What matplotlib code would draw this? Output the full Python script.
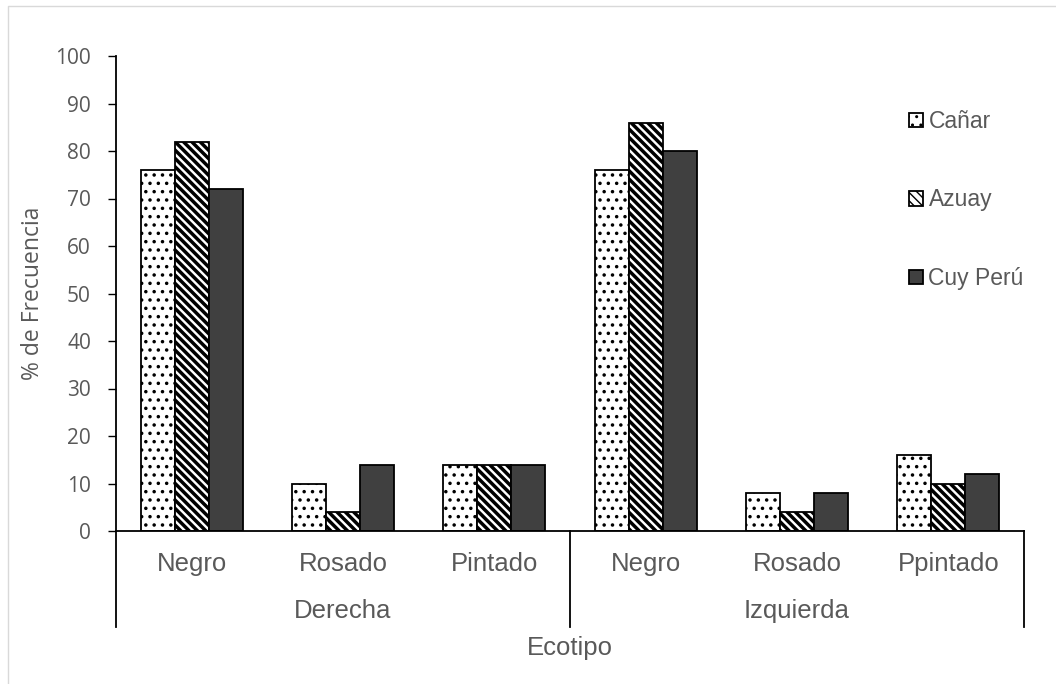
import matplotlib
matplotlib.use("Agg")
import matplotlib.pyplot as plt
from matplotlib.lines import Line2D
import numpy as np

# data
groups = ["Derecha", "Izquierda"]
ecotipos = ["Negro", "Rosado", "Pintado", "Negro", "Rosado", "Ppintado"]
series = ["Cañar", "Azuay", "Cuy Perú"]
canar = [76, 10, 14, 76, 8, 16]
azuay = [82, 4, 14, 86, 4, 10]
cuy_peru = [72, 14, 14, 80, 8, 12]
yticks = list(range(0, 101, 10))

TEXT = "#595959"
W, H = 1056, 684

fig = plt.figure(figsize=(W / 100, H / 100), dpi=100)
ax = fig.add_axes([116 / W, 1 - 531 / H, (1024 - 116) / W, 475 / H])

x = np.arange(len(ecotipos))
bw = 0.225
styles = [
    dict(facecolor="white", hatch=".."),
    dict(facecolor="white", hatch="\\" * 4),
    dict(facecolor="#404040", hatch=None),
]
hatch_lw = [1.3, 2.5, 1.0]
for i, (vals, name, st) in enumerate(zip([canar, azuay, cuy_peru], series, styles)):
    with plt.rc_context({"hatch.linewidth": hatch_lw[i]}):
        bars = ax.bar(x + (i - 1) * bw, vals, bw, label=name, edgecolor="black",
                      linewidth=1.3, **st)
    for b in bars:
        if hasattr(b, "set_hatch_linewidth"):
            b.set_hatch_linewidth(hatch_lw[i])

ax.set_xlim(-0.5, len(ecotipos) - 0.5)
ax.set_ylim(0, 100)
ax.set_yticks(yticks)
ax.set_xticks([])
ax.tick_params(axis="y", direction="out", length=6, width=1.0, color="black",
               labelsize=15, labelcolor=TEXT, pad=12)
for lab in ax.get_yticklabels():
    lab.set_family("Open Sans")
for s in ["top", "right"]:
    ax.spines[s].set_visible(False)
for s in ["left", "bottom"]:
    ax.spines[s].set_linewidth(1.3)
    ax.spines[s].set_color("black")

ax.set_ylabel("% de Frecuencia", fontsize=16.5, color=TEXT, family="Open Sans",
              va="center", ha="center")
ax.yaxis.set_label_coords(33 / W, 1 - 293 / H, transform=fig.transFigure)

# two-level category axis
def yfrac(py):
    return (531 - py) / 475

trans = ax.get_xaxis_transform()
for xi, name in zip(x, ecotipos):
    ax.text(xi, yfrac(564), name, transform=trans, ha="center", va="center",
            fontsize=18.5, color=TEXT, family="Liberation Sans")
n_per = len(ecotipos) // len(groups)
for g, name in enumerate(groups):
    xc = g * n_per + (n_per - 1) / 2
    ax.text(xc, yfrac(611), name, transform=trans, ha="center", va="center",
            fontsize=18.5, color=TEXT, family="Liberation Sans")
for b in [-0.5, n_per - 0.5, len(ecotipos) - 0.5]:
    ax.add_line(Line2D([b, b], [0, yfrac(627)], transform=trans, color="black",
                       linewidth=1.3, clip_on=False))
ax.text(0.5, yfrac(648), "Ecotipo", transform=ax.transAxes, ha="center",
        va="center", fontsize=18.5, color=TEXT, family="Liberation Sans")

leg = ax.legend(loc="upper left", bbox_to_anchor=(909 / W, 1 - 110 / H),
                bbox_transform=fig.transFigure, frameon=False, borderpad=0,
                borderaxespad=0, labelspacing=2.42, handlelength=0.6,
                handleheight=0.6, handletextpad=0.25,
                prop={"family": "Liberation Sans", "size": 16.5})
for t in leg.get_texts():
    t.set_color(TEXT)

# chart frame
fx, fy = 8 / W, 1 - 6 / H
fig.add_artist(Line2D([fx, fx, 1], [0, fy, fy], transform=fig.transFigure,
                      color="#d9d9d9", linewidth=1.0))

fig.savefig("out.png", dpi=100)
